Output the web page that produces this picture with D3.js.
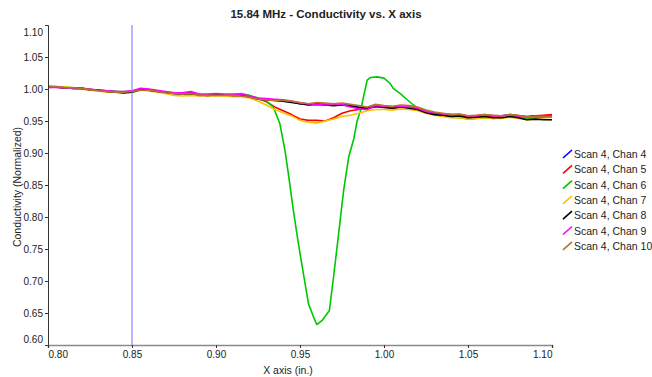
<!DOCTYPE html>
<html>
<head>
<meta charset="utf-8">
<script src="https://cdn.jsdelivr.net/npm/d3@7"></script>
<style>
  body { margin: 0; background: #fff; }
  text { font-family: "Liberation Sans", Arial, sans-serif; fill: #222; }
</style>
</head>
<body>
<div id="chart"></div>
<script>
// Shared x positions (in.) for most channels
const xPos = [0.800, 0.805, 0.810, 0.815, 0.820, 0.825, 0.830, 0.835, 0.840, 0.845,
  0.850, 0.855, 0.860, 0.865, 0.870, 0.875, 0.880, 0.885, 0.890, 0.895,
  0.900, 0.905, 0.910, 0.915, 0.920, 0.925, 0.930, 0.935, 0.940, 0.945,
  0.950, 0.955, 0.960, 0.965, 0.970, 0.975, 0.980, 0.985, 0.990, 0.995,
  1.000, 1.005, 1.010, 1.015, 1.020, 1.025, 1.030, 1.035, 1.040, 1.045,
  1.050, 1.055, 1.060, 1.065, 1.070, 1.075, 1.080, 1.085, 1.090, 1.095, 1.100];

const chan4 = [1.003, 1.003, 1.002, 1.001, 1.001, 0.999, 0.998, 0.997, 0.996, 0.995,
  0.996, 0.999, 0.998, 0.996, 0.995, 0.993, 0.993, 0.993, 0.991, 0.990,
  0.991, 0.991, 0.991, 0.990, 0.988, 0.985, 0.983, 0.983, 0.981, 0.980,
  0.977, 0.976, 0.977, 0.976, 0.975, 0.976, 0.974, 0.972, 0.970, 0.974,
  0.972, 0.971, 0.973, 0.972, 0.970, 0.965, 0.962, 0.961, 0.959, 0.960,
  0.957, 0.958, 0.959, 0.958, 0.958, 0.960, 0.958, 0.957, 0.958, 0.958, 0.959];

const chan5 = [1.003, 1.003, 1.002, 1.001, 1.000, 0.999, 0.998, 0.997, 0.996, 0.995,
  0.997, 1.000, 0.999, 0.997, 0.995, 0.994, 0.993, 0.995, 0.991, 0.991,
  0.992, 0.991, 0.991, 0.991, 0.989, 0.985, 0.980, 0.972, 0.966, 0.960,
  0.953, 0.951, 0.951, 0.950, 0.955, 0.962, 0.966, 0.968, 0.970, 0.972,
  0.972, 0.970, 0.972, 0.971, 0.969, 0.966, 0.963, 0.961, 0.960, 0.959,
  0.957, 0.958, 0.959, 0.957, 0.957, 0.959, 0.958, 0.956, 0.958, 0.959, 0.960];

const chan7 = [1.005, 1.004, 1.003, 1.002, 1.000, 0.998, 0.997, 0.995, 0.995, 0.995,
  0.995, 0.998, 0.997, 0.995, 0.993, 0.990, 0.989, 0.990, 0.989, 0.989,
  0.989, 0.989, 0.988, 0.988, 0.986, 0.981, 0.975, 0.968, 0.963, 0.958,
  0.951, 0.948, 0.947, 0.950, 0.953, 0.957, 0.959, 0.962, 0.966, 0.968,
  0.968, 0.967, 0.969, 0.968, 0.966, 0.962, 0.959, 0.957, 0.955, 0.955,
  0.953, 0.954, 0.955, 0.954, 0.954, 0.956, 0.954, 0.952, 0.953, 0.953, 0.952];

const chan8 = [1.004, 1.003, 1.002, 1.002, 1.001, 0.999, 0.998, 0.996, 0.995, 0.994,
  0.995, 0.999, 0.998, 0.996, 0.995, 0.993, 0.992, 0.993, 0.991, 0.990,
  0.991, 0.991, 0.990, 0.990, 0.988, 0.984, 0.983, 0.982, 0.981, 0.979,
  0.977, 0.975, 0.976, 0.975, 0.974, 0.975, 0.973, 0.971, 0.969, 0.973,
  0.971, 0.970, 0.972, 0.970, 0.968, 0.963, 0.960, 0.959, 0.957, 0.958,
  0.955, 0.956, 0.957, 0.955, 0.955, 0.957, 0.955, 0.952, 0.953, 0.952, 0.952];

const chan9 = [1.002, 1.003, 1.002, 1.001, 1.001, 1.000, 0.998, 0.997, 0.996, 0.996,
  0.997, 1.001, 1.000, 0.998, 0.996, 0.994, 0.994, 0.996, 0.992, 0.992,
  0.993, 0.992, 0.992, 0.992, 0.989, 0.986, 0.985, 0.984, 0.983, 0.981,
  0.978, 0.977, 0.976, 0.975, 0.976, 0.976, 0.972, 0.969, 0.968, 0.974,
  0.973, 0.972, 0.973, 0.972, 0.970, 0.965, 0.963, 0.961, 0.960, 0.960,
  0.958, 0.958, 0.960, 0.958, 0.957, 0.960, 0.958, 0.956, 0.957, 0.957, 0.958];

const chan10 = [1.004, 1.004, 1.002, 1.002, 1.001, 0.999, 0.997, 0.996, 0.995, 0.995,
  0.996, 0.998, 0.998, 0.996, 0.994, 0.993, 0.992, 0.993, 0.990, 0.990,
  0.990, 0.990, 0.990, 0.989, 0.987, 0.984, 0.983, 0.982, 0.982, 0.981,
  0.979, 0.977, 0.979, 0.978, 0.977, 0.978, 0.976, 0.974, 0.972, 0.976,
  0.974, 0.973, 0.975, 0.974, 0.972, 0.967, 0.964, 0.962, 0.960, 0.961,
  0.958, 0.959, 0.960, 0.959, 0.958, 0.960, 0.959, 0.956, 0.957, 0.957, 0.956];

// Chan 6 has the flaw signal, sampled on its own positions
const chan6X = [0.800, 0.810, 0.820, 0.830, 0.840, 0.850, 0.855, 0.860, 0.870, 0.880,
  0.890, 0.900, 0.910, 0.915, 0.920, 0.925, 0.930, 0.934, 0.938, 0.941,
  0.943, 0.946, 0.949, 0.952, 0.955, 0.958, 0.960, 0.963, 0.9675, 0.970,
  0.973, 0.976, 0.979, 0.982, 0.984, 0.986, 0.988, 0.990, 0.992, 0.996,
  1.000, 1.0035, 1.0055, 1.0095, 1.0135, 1.0175, 1.020, 1.025, 1.030, 1.035,
  1.040, 1.045, 1.050, 1.055, 1.060, 1.065, 1.070, 1.075, 1.080, 1.085,
  1.090, 1.095, 1.100];
const chan6 = [1.004, 1.003, 1.001, 0.998, 0.996, 0.996, 0.999, 0.998, 0.995, 0.992,
  0.991, 0.991, 0.991, 0.993, 0.990, 0.986, 0.981, 0.972, 0.946, 0.905,
  0.869, 0.811, 0.759, 0.712, 0.665, 0.644, 0.632, 0.638, 0.654, 0.707,
  0.774, 0.842, 0.894, 0.922, 0.950, 0.966, 0.990, 1.014, 1.018, 1.019,
  1.017, 1.009, 1.001, 0.993, 0.984, 0.975, 0.970, 0.964, 0.960, 0.958,
  0.956, 0.955, 0.953, 0.954, 0.955, 0.954, 0.955, 0.957, 0.955, 0.953,
  0.955, 0.956, 0.957];

const seriesNames = ['Scan 4, Chan 4', 'Scan 4, Chan 5', 'Scan 4, Chan 6', 'Scan 4, Chan 7',
  'Scan 4, Chan 8', 'Scan 4, Chan 9', 'Scan 4, Chan 10'];
const seriesColors = ['#0000ff', '#ff0000', '#00c800', '#ffc000', '#000000', '#ff00ff', '#b8742c'];

const xTicks = [0.80, 0.85, 0.90, 0.95, 1.00, 1.05, 1.10];
const yTicks = [0.60, 0.65, 0.70, 0.75, 0.80, 0.85, 0.90, 0.95, 1.00, 1.05, 1.10];
const markerX = 0.85;

// Configuration
const width = 652;
const height = 377;
const margin = { top: 25, right: 100, bottom: 32, left: 48 };
const graphWidth = width - margin.left - margin.right;
const graphHeight = height - margin.top - margin.bottom;

const series = [
  { name: seriesNames[0], color: seriesColors[0], xs: xPos, ys: chan4 },
  { name: seriesNames[1], color: seriesColors[1], xs: xPos, ys: chan5 },
  { name: seriesNames[2], color: seriesColors[2], xs: chan6X, ys: chan6 },
  { name: seriesNames[3], color: seriesColors[3], xs: xPos, ys: chan7 },
  { name: seriesNames[4], color: seriesColors[4], xs: xPos, ys: chan8 },
  { name: seriesNames[5], color: seriesColors[5], xs: xPos, ys: chan9 },
  { name: seriesNames[6], color: seriesColors[6], xs: xPos, ys: chan10 }
];

const xScale = d3.scaleLinear().domain([0.80, 1.10]).range([0, graphWidth]);
const yScale = d3.scaleLinear().domain([0.60, 1.10]).range([graphHeight, 0]);

const root = d3.select('#chart')
  .append('svg')
  .attr('width', width)
  .attr('height', height);

const svg = root.append('g')
  .attr('transform', `translate(${margin.left},${margin.top})`);

// Title
root.append('text')
  .attr('x', 326)
  .attr('y', 18)
  .attr('text-anchor', 'middle')
  .style('font-size', '11.5px')
  .style('font-weight', 'bold')
  .text('15.84 MHz - Conductivity vs. X axis');

// Lines
const line = d3.line()
  .x(d => xScale(d[0]))
  .y(d => yScale(d[1]));

svg.selectAll('.series')
  .data(series)
  .enter()
  .append('path')
  .attr('class', 'series')
  .attr('fill', 'none')
  .attr('stroke', d => d.color)
  .attr('stroke-width', 1.6)
  .attr('stroke-linejoin', 'round')
  .attr('d', d => line(d.xs.map((x, i) => [x, d.ys[i]])));

// Vertical marker at 0.85
svg.append('line')
  .attr('x1', xScale(markerX))
  .attr('x2', xScale(markerX))
  .attr('y1', 0)
  .attr('y2', graphHeight)
  .attr('stroke', '#6f6fff')
  .attr('stroke-width', 1);

// Axes
const yAxis = svg.append('g')
  .call(d3.axisLeft(yScale).tickValues(yTicks).tickFormat(d3.format('.2f')).tickSize(3).tickPadding(2));
yAxis.select('.domain').attr('stroke', '#333').attr('d', `M-3,0.5H0.5V${graphHeight}`);
yAxis.selectAll('.tick line').attr('stroke', '#333');
yAxis.selectAll('text').style('font-size', '10px').attr('fill', '#333');
yAxis.selectAll('.tick').filter(d => d === 1.10).select('text').attr('dy', '1.0em');
yAxis.selectAll('.tick').filter(d => d === 0.60).select('text').attr('dy', '-0.25em');

const xAxis = svg.append('g')
  .attr('transform', `translate(0,${graphHeight})`)
  .call(d3.axisBottom(xScale).tickValues(xTicks).tickFormat(d3.format('.2f')).tickSize(3).tickPadding(3));
xAxis.select('.domain').attr('stroke', '#8a8a8a').attr('stroke-width', 1.6);
xAxis.selectAll('.tick line').attr('stroke', '#333');
xAxis.selectAll('text').style('font-size', '10px').attr('fill', '#333');
xAxis.selectAll('.tick').filter(d => d === 0.80).select('text').attr('text-anchor', 'start');
xAxis.selectAll('.tick').filter(d => d === 1.10).select('text').attr('text-anchor', 'end');

// Axis titles
svg.append('text')
  .attr('x', 240)
  .attr('y', graphHeight + 29)
  .attr('text-anchor', 'middle')
  .style('font-size', '10.5px')
  .text('X axis (in.)');

svg.append('text')
  .attr('transform', 'rotate(-90)')
  .attr('x', -162)
  .attr('y', -27)
  .attr('text-anchor', 'middle')
  .style('font-size', '10.5px')
  .text('Conductivity (Normalized)');

// Legend
const legend = root.append('g')
  .attr('transform', 'translate(563,154)');

const item = legend.selectAll('.item')
  .data(series)
  .enter()
  .append('g')
  .attr('class', 'item')
  .attr('transform', (d, i) => `translate(0,${i * 15.3})`);

item.append('line')
  .attr('x1', 0).attr('y1', 4)
  .attr('x2', 9).attr('y2', -4)
  .attr('stroke', d => d.color)
  .attr('stroke-width', 1.6);

item.append('text')
  .attr('x', 11)
  .attr('y', 4)
  .style('font-size', '10.5px')
  .text(d => d.name);
</script>
</body>
</html>
